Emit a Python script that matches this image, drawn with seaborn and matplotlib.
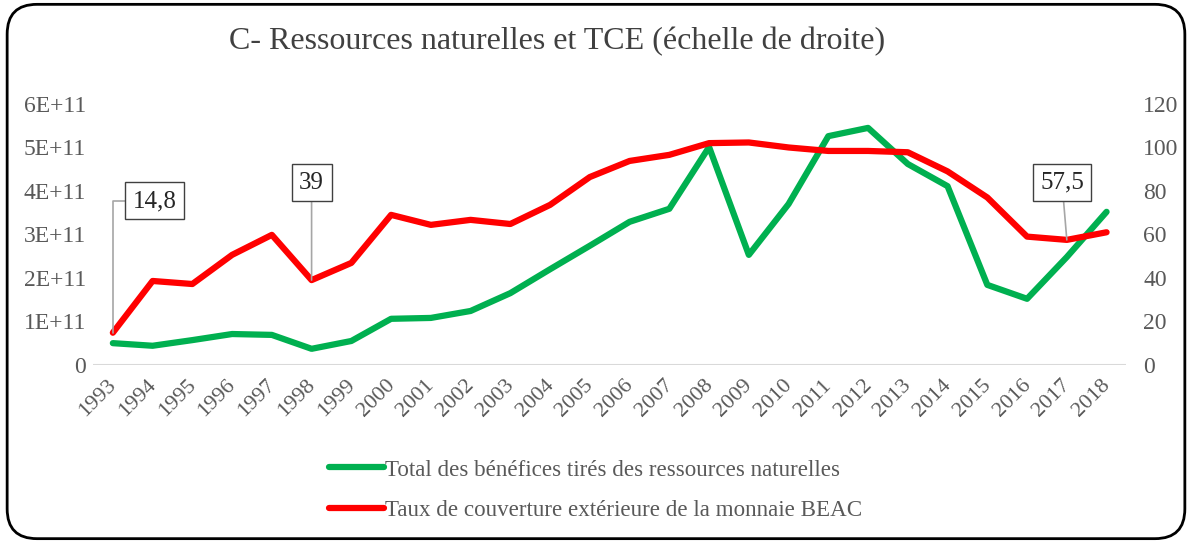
import numpy as np
import pandas as pd
import matplotlib
matplotlib.use("Agg")
import matplotlib.pyplot as plt
import seaborn as sns
from matplotlib.patches import FancyBboxPatch
import matplotlib.transforms as mtrans

years = list(range(1993, 2019))
ressources = [0.50, 0.44, 0.57, 0.71, 0.69, 0.37, 0.55, 1.06, 1.08, 1.24, 1.65, 2.20,
              2.74, 3.29, 3.59, 5.01, 2.53, 3.70, 5.26, 5.45, 4.62, 4.11, 1.84, 1.52,
              2.48, 3.52]  # en E+11
ressources = [v * 1e11 for v in ressources]
tce = [14.8, 38.6, 37.2, 50.6, 59.8, 39.0, 46.9, 69.0, 64.4, 66.7, 64.8, 73.6, 86.4,
       93.8, 96.6, 102.0, 102.3, 100.0, 98.4, 98.4, 97.8, 89.0, 77.0, 59.0, 57.5, 61.0]
left_ticks = [0, 1e11, 2e11, 3e11, 4e11, 5e11, 6e11]
left_labels = ["0", "1E+11", "2E+11", "3E+11", "4E+11", "5E+11", "6E+11"]
right_ticks = [0, 20, 40, 60, 80, 100, 120]
annot = {1993: "14,8", 1998: "39", 2017: "57,5"}

green = "#00B050"
red = "#FF0000"
grey = "#595959"

sns.set_theme(style="white")
plt.rcParams['font.family'] = ['Liberation Serif', 'DejaVu Serif']

df = pd.DataFrame({"idx": np.arange(len(years)), "res": ressources, "tce": tce})

fig = plt.figure(figsize=(11.92, 5.43), dpi=100)
ax = fig.add_axes([0.078, 0.328, 0.867, 0.4805])
ax2 = ax.twinx()

sns.lineplot(data=df, x="idx", y="res", ax=ax, color=green, linewidth=4.5,
             label="Total des bénéfices tirés des ressources naturelles", legend=False)
sns.lineplot(data=df, x="idx", y="tce", ax=ax2, color=red, linewidth=4.5,
             label="Taux de couverture extérieure de la monnaie BEAC", legend=False)

ax.set_xlim(-0.5, len(years) - 0.5)
ax.set_ylim(0, 6e11)
ax2.set_ylim(0, 120)
ax.set_yticks(left_ticks)
ax.set_yticklabels(left_labels)
ax2.set_yticks(right_ticks)
ax2.set_yticklabels([str(t) for t in right_ticks])
ax.set_xticks(np.arange(len(years)))
ax.set_xticklabels([str(y) for y in years], rotation=45, ha="right", rotation_mode="anchor")
for a in (ax, ax2):
    a.set_xlabel("")
    a.set_ylabel("")
    for s in a.spines.values():
        s.set_visible(False)
    a.tick_params(axis="both", length=0, labelsize=17, labelcolor=grey)
    a.grid(False)
ax.tick_params(axis="x", labelsize=16, pad=8)
ax.tick_params(axis="y", pad=5)
ax2.tick_params(axis="y", pad=12)
off = mtrans.ScaledTranslation(-6 / 100, 0, fig.dpi_scale_trans)
for lab in ax.get_xticklabels():
    lab.set_transform(lab.get_transform() + off)
ax.axhline(0, color="#D9D9D9", linewidth=1.5, zorder=0)

# data labels with callouts
box = dict(boxstyle="square,pad=0.3", fc="white", ec="#404040", lw=1)
for yr, txt in annot.items():
    i = years.index(yr)
    v = tce[i]
    if yr == 1993:
        ax2.annotate(txt, xy=(i, v), xytext=(i + 0.5, 75.4), fontsize=18, color="#262626",
                     ha="left", va="center", bbox=box,
                     arrowprops=dict(arrowstyle="-", color="#A6A6A6", lw=1.2,
                                     connectionstyle="angle,angleA=0,angleB=90,rad=0",
                                     shrinkA=0, shrinkB=0))
    else:
        dx = -0.12 if yr == 2017 else 0.0
        ax2.annotate(txt, xy=(i, v), xytext=(i + dx, 83.7), fontsize=18, color="#262626",
                     ha="center", va="center", bbox=box,
                     arrowprops=dict(arrowstyle="-", color="#A6A6A6", lw=1.2,
                                     shrinkA=0, shrinkB=0))

fig.text(0.467, 0.923, "C- Ressources naturelles et TCE (échelle de droite)",
         ha="center", va="center", fontsize=23, color="#404040")

h1, l1 = ax.get_legend_handles_labels()
h2, l2 = ax2.get_legend_handles_labels()
fig.legend(h1 + h2, l1 + l2, loc="center left", bbox_to_anchor=(0.259, 0.097),
           frameon=False, fontsize=16.6, labelcolor=grey, handlelength=2.35,
           handletextpad=0.05, labelspacing=0.85)

border = FancyBboxPatch((0.006, 0.008), 0.988, 0.984,
                        boxstyle="round,pad=0,rounding_size=0.025",
                        transform=fig.transFigure, fill=False, ec="black", lw=2,
                        mutation_aspect=1192 / 543)
fig.patches.append(border)

fig.savefig("out.png", dpi=100, facecolor="white")
